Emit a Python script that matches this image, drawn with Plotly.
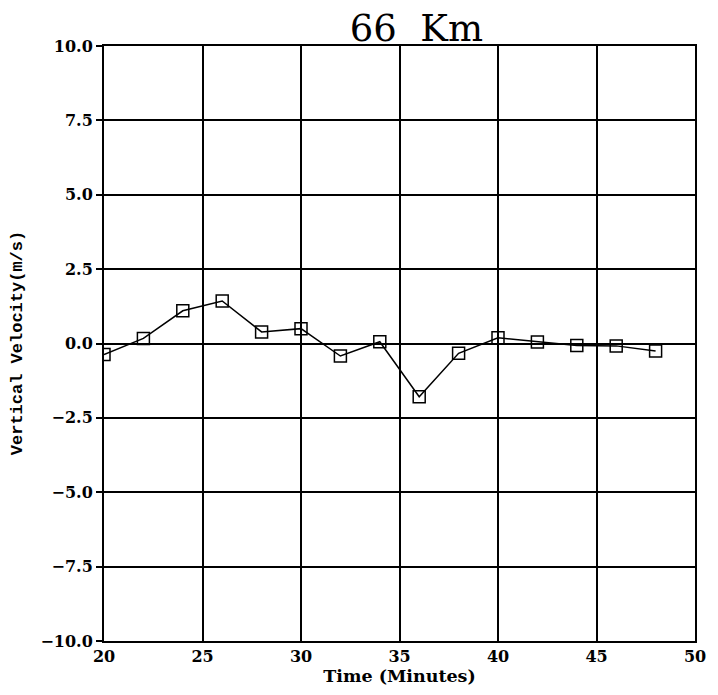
import plotly.graph_objects as go

time_min = [20, 22, 24, 26, 28, 30, 32, 34, 36, 38, 40, 42, 44, 46, 48]
velocity = [-0.37, 0.17, 1.1, 1.43, 0.39, 0.5, -0.42, 0.06, -1.79, -0.33, 0.19, 0.05, -0.07, -0.08, -0.25]

y_ticks = [-10, -7.5, -5, -2.5, 0, 2.5, 5, 7.5, 10]
y_tick_text = ["\u221210.0", "\u22127.5", "\u22125.0", "\u22122.5", "0.0", "2.5", "5.0", "7.5", "10.0"]
x_ticks = [20, 25, 30, 35, 40, 45, 50]

tick_font = dict(family="DejaVu Serif", size=16, color="black", weight="bold")

fig = go.Figure()
fig.add_trace(go.Scatter(
    x=time_min, y=velocity, mode="lines+markers",
    line=dict(color="black", width=1.5),
    marker=dict(symbol="square-open", size=12, color="black", line=dict(width=1.5, color="black")),
    showlegend=False,
))

fig.update_layout(
    width=718, height=695,
    margin=dict(l=104, r=15, t=46, b=54),
    paper_bgcolor="white", plot_bgcolor="white",
    title=dict(text="66\u00a0\u00a0Km", x=0.58, xanchor="center", y=0.96, yanchor="middle",
               font=dict(family="DejaVu Serif", size=37, color="black")),
    xaxis=dict(range=[20, 50], tickvals=x_ticks, ticks="", showgrid=True,
               gridcolor="black", gridwidth=1.6, showline=True, linecolor="black",
               linewidth=2, mirror=True, zeroline=False, tickfont=tick_font,
               title=dict(text="Time (Minutes)", standoff=2,
                          font=dict(family="DejaVu Serif", size=17.5, color="black", weight="bold"))),
    yaxis=dict(range=[-10, 10], tickvals=y_ticks, ticktext=y_tick_text, ticks="outside",
               ticklen=6, tickcolor="black", tickwidth=1.5, showgrid=True,
               gridcolor="black", gridwidth=1.6, showline=True, linecolor="black",
               linewidth=2, mirror=True, zeroline=True, zerolinecolor="black",
               zerolinewidth=1.6, tickfont=tick_font),
    annotations=[dict(text="Vertical Velocity(m/s)", xref="paper", yref="paper",
                      x=-0.146, y=0.5, xanchor="center", yanchor="middle",
                      textangle=-90, showarrow=False,
                      font=dict(family="Liberation Mono", size=17, color="black", weight="bold"))],
)

fig.write_html("out.html")
